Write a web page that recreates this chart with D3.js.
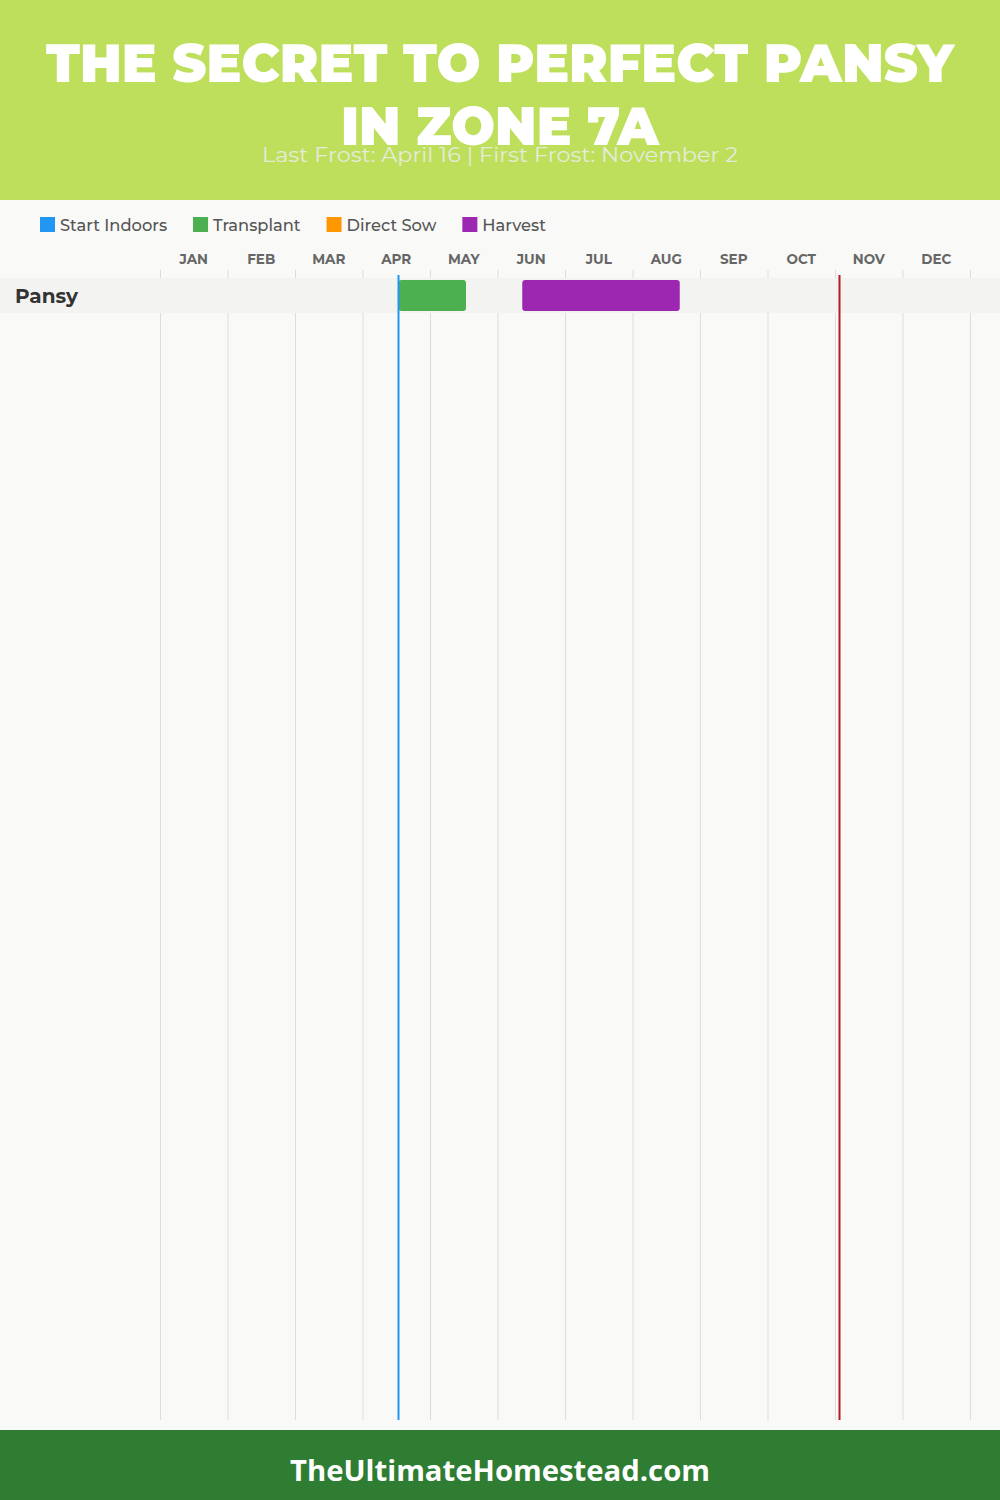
<!DOCTYPE html>
<html>
<head>
<meta charset="utf-8">
<script src="https://cdn.jsdelivr.net/npm/d3@7"></script>
<style>
  html, body { margin: 0; padding: 0; background: #f9f9f8; }
  svg { display: block; }
</style>
</head>
<body>
<div id="chart"></div>
<script>
// ---- Data ----
const titleLines = ["THE SECRET TO PERFECT PANSY", "IN ZONE 7A"];
const subtitle = "Last Frost: April 16 | First Frost: November 2";
const months = ["JAN","FEB","MAR","APR","MAY","JUN","JUL","AUG","SEP","OCT","NOV","DEC"];
const legendNames = ["Start Indoors", "Transplant", "Direct Sow", "Harvest"];
const legendColors = ["#2196F3", "#4CAF50", "#FF9800", "#9C27B0"];
const crops = ["Pansy"];
// [crop, activity, start [monthIndex, day], end [monthIndex, day]]
const tasks = [
  ["Pansy", "Transplant", [3, 16], [4, 16]],
  ["Pansy", "Harvest", [5, 11], [7, 21]]
];
const lastFrost = [3, 16];   // April 16
const firstFrost = [10, 2];  // November 2
const footerText = "TheUltimateHomestead.com";

// ---- Layout ----
const W = 1000, H = 1500;
const svg = d3.select("#chart").append("svg").attr("width", W).attr("height", H);
const toVal = d => d[0] + d[1] / 30;
const x = d3.scaleLinear().domain([0, 12]).range([160, 970]);
const y = d3.scaleBand().domain(crops).range([278, 313]);
const color = d3.scaleOrdinal().domain(legendNames).range(legendColors);
const gridTop = 270, gridBottom = 1420;
const mont = "Montserrat, 'Open Sans', sans-serif";

svg.append("rect").attr("width", W).attr("height", H).attr("fill", "#f9f9f8");

// Header
svg.append("rect").attr("x", 0).attr("y", 0).attr("width", W).attr("height", 200).attr("fill", "#bedf5b");
svg.append("text").attr("x", 500).attr("y", 82).attr("text-anchor", "middle")
  .attr("font-family", mont).attr("font-weight", 900).attr("font-size", 54)
  .attr("fill", "#ffffff").attr("textLength", 908).attr("lengthAdjust", "spacingAndGlyphs")
  .text(titleLines[0]);
svg.append("text").attr("x", 500).attr("y", 145).attr("text-anchor", "middle")
  .attr("font-family", mont).attr("font-weight", 900).attr("font-size", 54)
  .attr("fill", "#ffffff").attr("textLength", 318).attr("lengthAdjust", "spacingAndGlyphs")
  .text(titleLines[1]);
svg.append("text").attr("x", 500).attr("y", 162).attr("text-anchor", "middle")
  .attr("font-family", mont).attr("font-weight", 400).attr("font-size", 20)
  .attr("fill", "#e6ebdc").attr("textLength", 476).attr("lengthAdjust", "spacingAndGlyphs")
  .text(subtitle);

// Legend
const legend = svg.append("g");
let lx = 40;
legendNames.forEach((name) => {
  const g = legend.append("g").attr("transform", `translate(${lx},0)`);
  g.append("rect").attr("x", 0).attr("y", 217).attr("width", 15).attr("height", 15).attr("fill", color(name));
  const tx = g.append("text").attr("x", 20).attr("y", 230.5)
    .attr("font-family", mont).attr("font-weight", 500).attr("font-size", 16.3).attr("fill", "#555")
    .text(name);
  const w = tx.node().getComputedTextLength();
  lx += 20 + w + 26;
});

// Grid lines
svg.append("g").selectAll("line").data(d3.range(13)).join("line")
  .attr("x1", d => x(d) + 0.5).attr("x2", d => x(d) + 0.5)
  .attr("y1", gridTop).attr("y2", gridBottom)
  .attr("stroke", "#dddddd").attr("stroke-width", 1);

// Month labels
svg.append("g").selectAll("text").data(months).join("text")
  .attr("x", (d, i) => x(i + 0.5)).attr("y", 264).attr("text-anchor", "middle")
  .attr("font-family", mont).attr("font-weight", 700)
  .attr("font-size", 13.5).attr("fill", "#666")
  .text(d => d);

// Row bands
svg.append("g").selectAll("rect").data(crops).join("rect")
  .attr("x", 0).attr("y", d => y(d)).attr("width", W).attr("height", y.bandwidth())
  .attr("fill", "#f3f3f2");

// Crop labels
svg.append("g").selectAll("text").data(crops).join("text")
  .attr("x", 15).attr("y", d => y(d) + y.bandwidth() / 2 + 7)
  .attr("font-family", mont).attr("font-weight", 700)
  .attr("font-size", 20).attr("fill", "#333")
  .text(d => d);

// Bars
svg.append("g").selectAll("rect").data(tasks).join("rect")
  .attr("x", d => x(toVal(d[2])))
  .attr("y", d => y(d[0]) + 2)
  .attr("width", d => x(toVal(d[3])) - x(toVal(d[2])))
  .attr("height", y.bandwidth() - 4)
  .attr("rx", 3).attr("ry", 3)
  .attr("fill", d => color(d[1]));

// Frost lines
svg.append("line").attr("x1", x(toVal(lastFrost))).attr("x2", x(toVal(lastFrost)))
  .attr("y1", 275).attr("y2", gridBottom).attr("stroke", "#2196F3").attr("stroke-width", 2);
svg.append("line").attr("x1", x(toVal(firstFrost))).attr("x2", x(toVal(firstFrost)))
  .attr("y1", 275).attr("y2", gridBottom).attr("stroke", "#b71c1c").attr("stroke-width", 2);

// Footer
svg.append("rect").attr("x", 0).attr("y", 1430).attr("width", W).attr("height", 70).attr("fill", "#2e7d32");
svg.append("text").attr("x", 500).attr("y", 1481).attr("text-anchor", "middle")
  .attr("font-family", "'Open Sans', sans-serif").attr("font-weight", 700).attr("font-size", 28)
  .attr("fill", "#ffffff").attr("textLength", 420).attr("lengthAdjust", "spacingAndGlyphs")
  .text(footerText);
</script>
</body>
</html>
